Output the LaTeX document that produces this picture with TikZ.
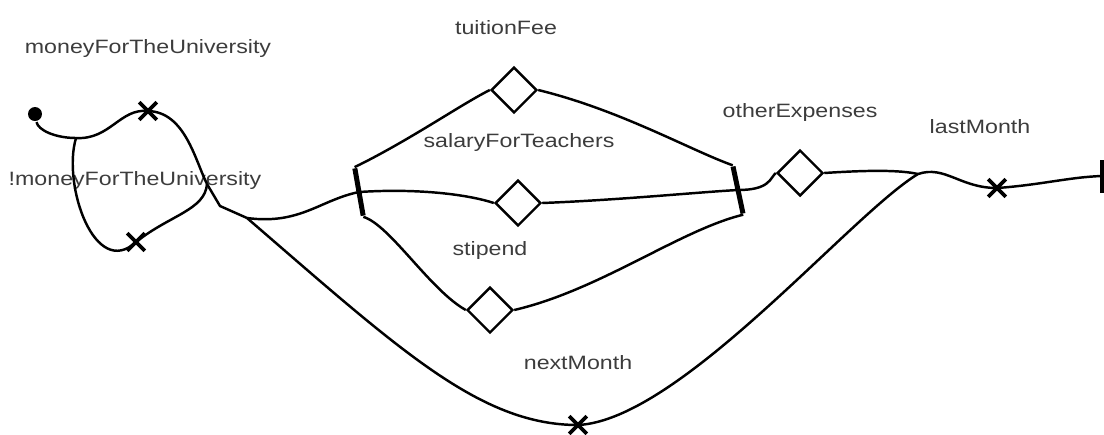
\documentclass[tikz,border=0pt]{standalone}
\usepackage{fontspec}
\setmainfont{Liberation Sans}[FakeStretch=1.2]
\usetikzlibrary{shapes.geometric,shapes.misc}
\definecolor{lblgray}{RGB}{60,60,60}

\begin{document}
\begin{tikzpicture}[x=0.02cm,y=-0.02cm,line width=1.4pt,
    lbl/.style={text=lblgray,font=\fontsize{11}{13}\selectfont,inner sep=0pt},
    choice/.style={draw,diamond,inner sep=0pt,minimum size=0.92cm,fill=white},
    xmark/.style={draw,cross out,minimum size=0.28cm,inner sep=0pt,line width=2.1pt},
    bar/.style={fill=black,inner sep=0pt,minimum width=0.1cm,minimum height=0.96cm},
    dot/.style={circle,fill=black,inner sep=0pt,minimum size=0.28cm}]
    \useasboundingbox (0,0) rectangle (1104,434);

    \node[dot]    at (35,114)   (s)   {};
    \node[xmark]  at (148,111)  (c1)  {};
    \node[xmark]  at (136,242)  (c2)  {};
    \node[bar,rotate=10] at (359,192) (lbar) {};
    \node[choice] at (514,90)   (d1)  {};
    \node[choice] at (518,203)  (d2)  {};
    \node[choice] at (490,310)  (d3)  {};
    \node[bar,rotate=12] at (738,190) (rbar) {};
    \node[choice] at (800,173)  (d4)  {};
    \node[xmark]  at (997,188)  (c3)  {};
    \node[xmark]  at (578,425)  (c4)  {};
    \node[bar,minimum height=0.66cm] at (1102,176) (ebar) {};
    \coordinate (split) at (76,138);
    \coordinate (j0) at (207,184);
    \coordinate (j1) at (220,206);
    \coordinate (j2) at (247,218);
    \coordinate (m) at (918,174);

    \node[lbl] at (148,48)  (l1) {moneyForTheUniversity};
    \node[lbl] at (135,180) (l2) {!moneyForTheUniversity};
    \node[lbl] at (506,28)  (l3) {tuitionFee};
    \node[lbl] at (519,142) (l4) {salaryForTeachers};
    \node[lbl] at (490,250) (l5) {stipend};
    \node[lbl] at (800,112) (l6) {otherExpenses};
    \node[lbl] at (980,127) (l7) {lastMonth};
    \node[lbl] at (578,363) (l8) {nextMonth};

    \draw (s) .. controls (38,130) and (55,138) .. (split);
    \draw (split) .. controls (110,140) and (120,108) .. (c1.center);
    \draw (c1.center) .. controls (185,112) and (195,160) .. (j0);
    \draw (split) .. controls (62,185) and (95,280) .. (c2.center);
    \draw (c2.center) .. controls (170,215) and (205,210) .. (j0);
    \draw (j0) -- (j1) -- (j2);
    \draw (j2) .. controls (300,225) and (320,200) .. (lbar.center);
    \draw (j2) .. controls (400,350) and (480,425) .. (c4.center);
    \draw (c4.center) .. controls (680,420) and (850,215) .. (m);
    \draw (lbar.north) .. controls (410,140) and (460,105) .. (d1.west);
    \draw (lbar.center) .. controls (420,188) and (470,195) .. (d2.west);
    \draw (lbar.south) .. controls (390,225) and (430,290) .. (d3.west);
    \draw (d1.east) .. controls (620,110) and (690,150) .. (rbar.north);
    \draw (d2.east) .. controls (620,200) and (700,192) .. (rbar.center);
    \draw (d3.east) .. controls (600,290) and (680,230) .. (rbar.south);
    \draw (rbar.center) .. controls (770,190) and (770,178) .. (d4.west);
    \draw (d4.east) .. controls (870,170) and (900,170) .. (m);
    \draw (m) .. controls (945,165) and (960,188) .. (c3.center);
    \draw (c3.center) .. controls (1040,185) and (1070,177) .. (ebar.center);
\end{tikzpicture}
\end{document}
